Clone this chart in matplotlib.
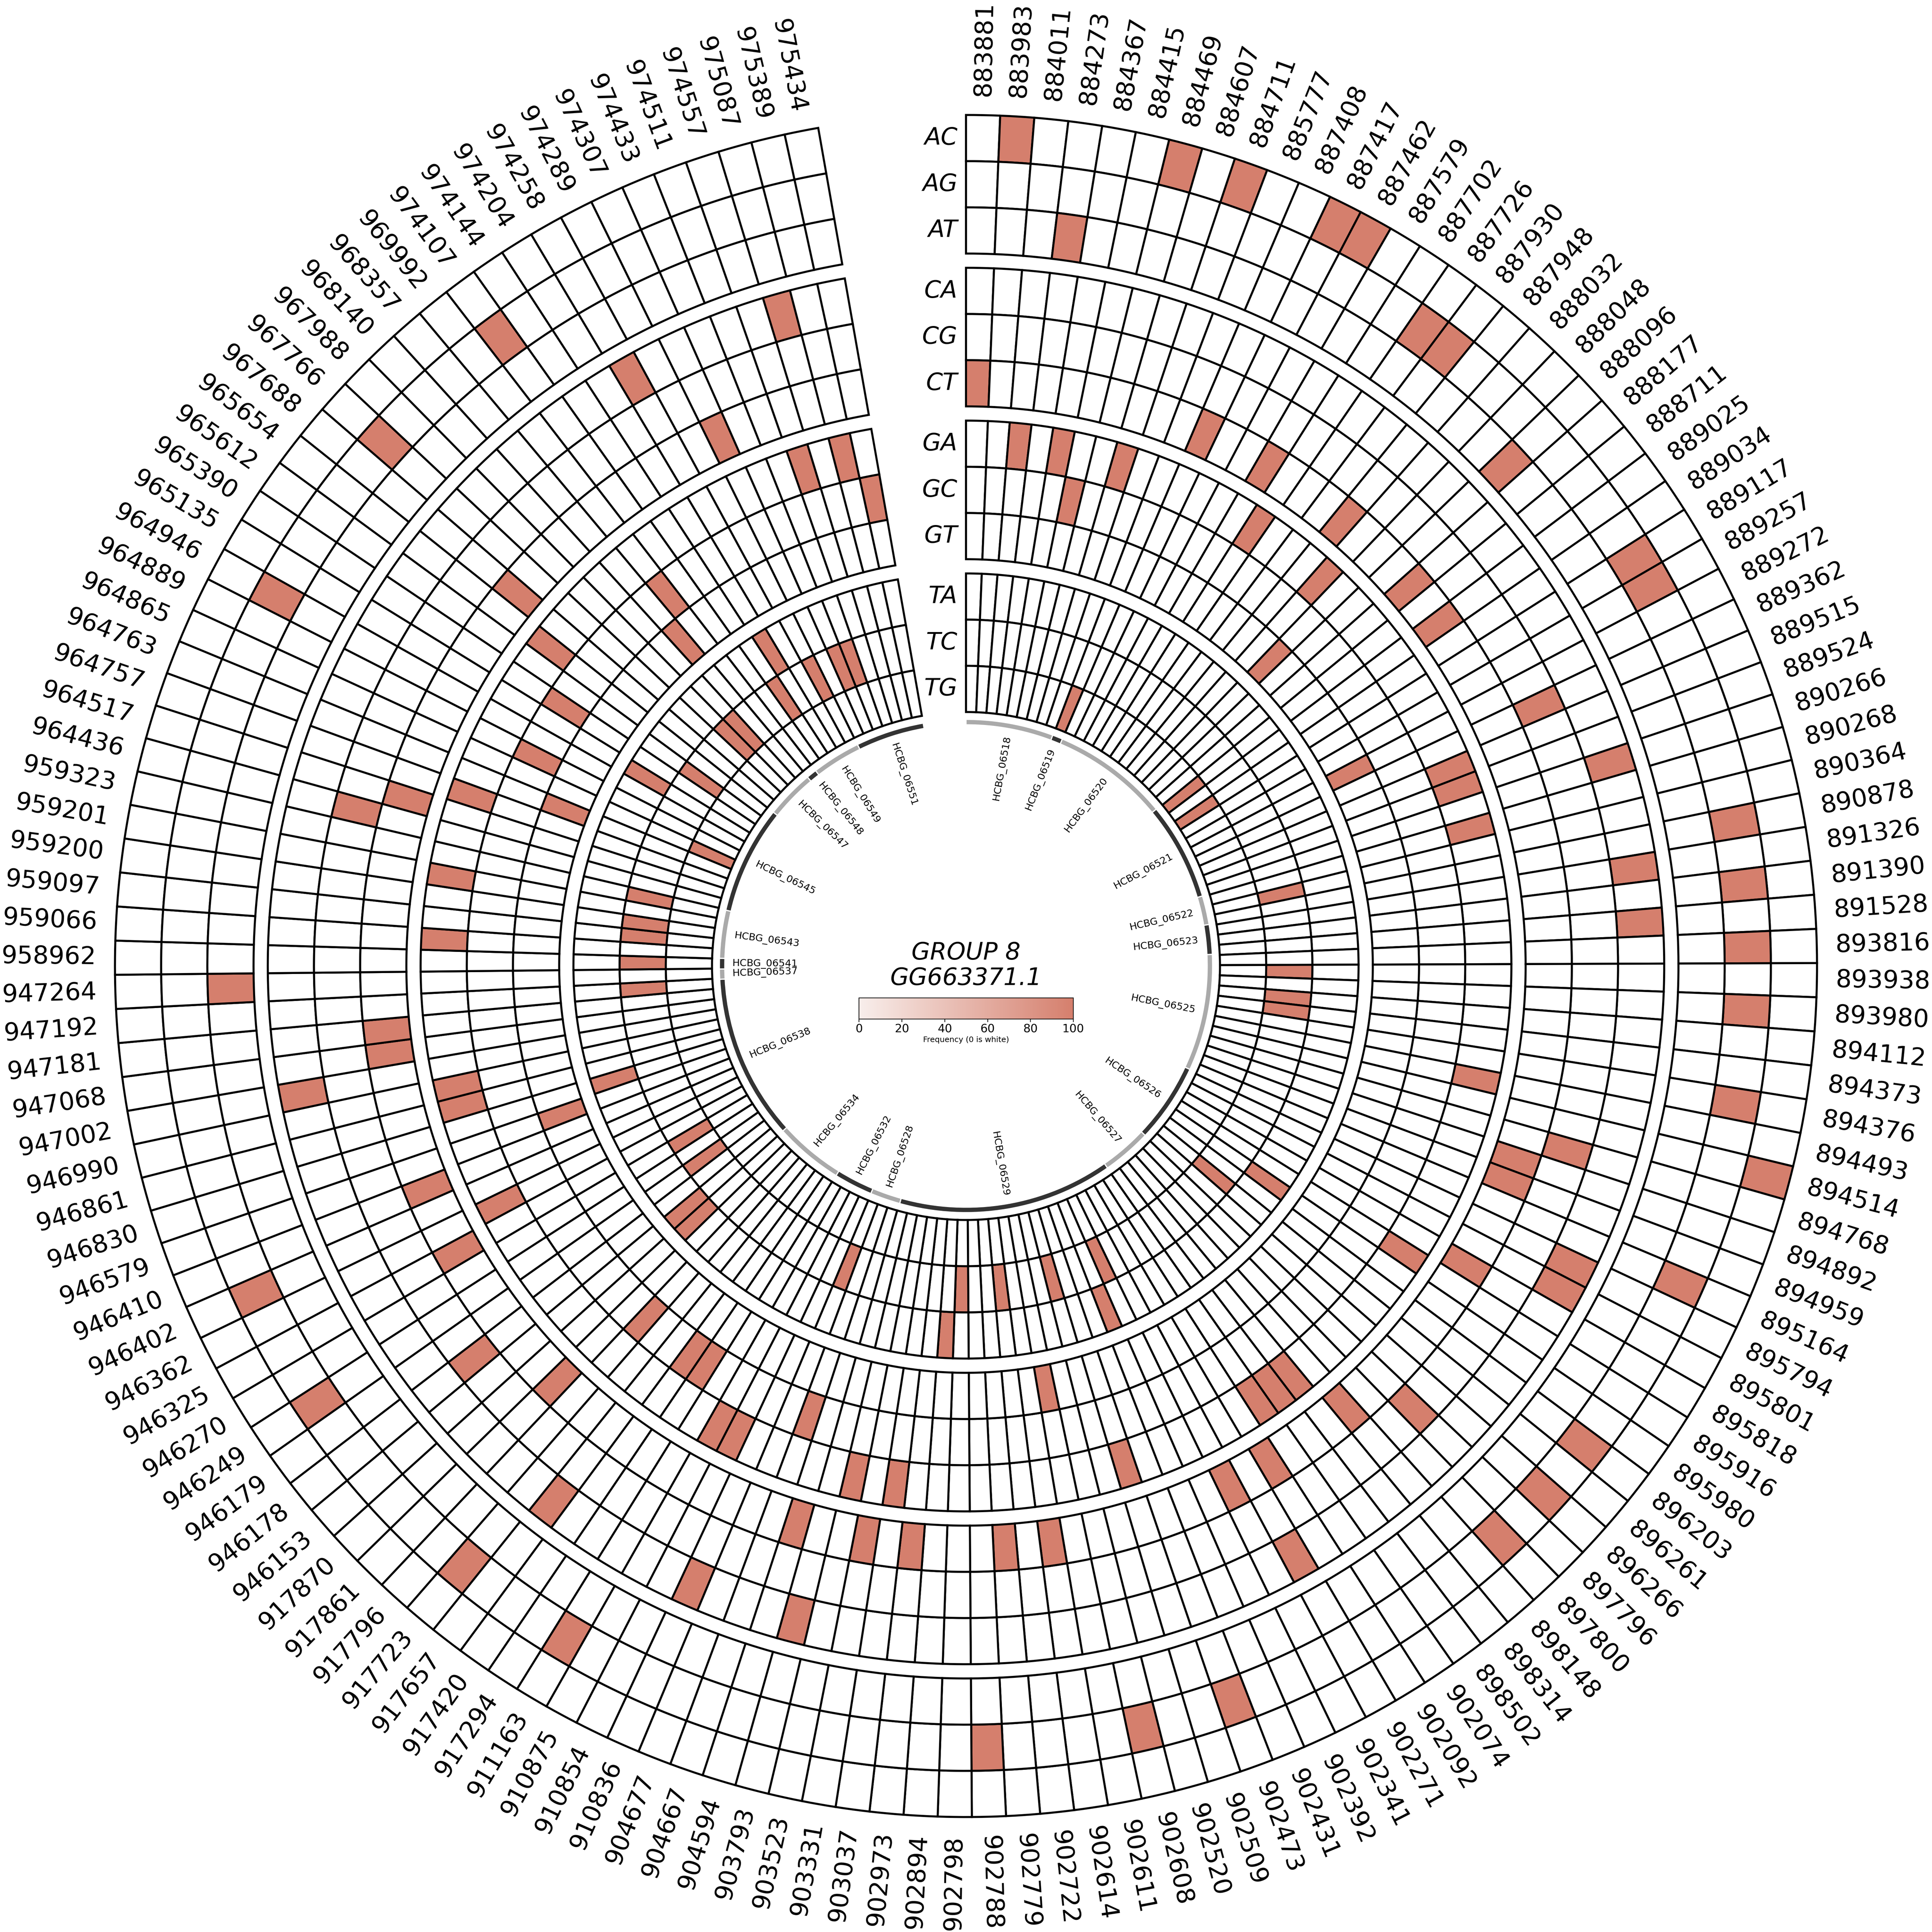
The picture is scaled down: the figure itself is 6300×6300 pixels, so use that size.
#!/usr/bin/env python3
"""Circular mutation heatmap for group 8 / GG663371.1."""

import numpy as np
import matplotlib
matplotlib.use('Agg')
import matplotlib.pyplot as plt
from matplotlib.cm import ScalarMappable
from matplotlib.colors import LinearSegmentedColormap, Normalize

positions = [
    883881, 883983, 884011, 884273, 884367, 884415, 884469, 884607, 884711, 885777,
    887408, 887417, 887462, 887579, 887702, 887726, 887930, 887948, 888032, 888048,
    888096, 888177, 888711, 889025, 889034, 889117, 889257, 889272, 889362, 889515,
    889524, 890266, 890268, 890364, 890878, 891326, 891390, 891528, 893816, 893938,
    893980, 894112, 894373, 894376, 894493, 894514, 894768, 894892, 894959, 895164,
    895794, 895801, 895818, 895916, 895980, 896203, 896261, 896266, 897796, 897800,
    898148, 898314, 898502, 902074, 902092, 902271, 902341, 902392, 902431, 902473,
    902509, 902520, 902608, 902611, 902614, 902722, 902779, 902788, 902798, 902894,
    902973, 903037, 903331, 903523, 903793, 904594, 904667, 904677, 910836, 910854,
    910875, 911163, 917294, 917420, 917657, 917723, 917796, 917861, 917870, 946153,
    946178, 946179, 946249, 946270, 946325, 946362, 946402, 946410, 946579, 946830,
    946861, 946990, 947002, 947068, 947181, 947192, 947264, 958962, 959066, 959097,
    959200, 959201, 959323, 964436, 964517, 964757, 964763, 964865, 964889, 964946,
    965135, 965390, 965612, 965654, 967688, 967766, 967988, 968140, 968357, 969992,
    974107, 974144, 974204, 974258, 974289, 974307, 974433, 974511, 974557, 975087,
    975389, 975434,
]

# column indices with frequency 100, everything else is 0
AC = [1, 6, 8, 11, 12, 45]
AG = [15, 16, 25, 26, 34, 36, 38, 40, 43, 49, 55, 57, 59, 69, 72, 77, 91, 95, 102, 106, 129, 135, 140]
AT = [3, 20, 116]
CA = [31, 35, 37, 50, 51, 65, 84, 88, 94, 112, 143, 149]
CG = [28, 46, 58, 100, 123]
CT = [0, 10, 13, 17, 21, 23, 47, 48, 52, 60, 64, 66, 74, 76, 80, 82, 85, 97, 104, 107, 113, 114, 124, 134, 145]
GA = [2, 4, 7, 14, 18, 29, 30, 32, 44, 53, 61, 62, 63, 70, 81, 83, 89, 90, 105, 110, 111, 118, 121, 125, 133, 148, 150]
GC = [5, 86, 92, 93, 96, 128, 131, 139, 151]
GT = [19, 27, 73, 108, 126, 138]
TA = [54, 68, 79, 98, 99, 109, 130, 142]
TC = [33, 39, 41, 42, 56, 67, 71, 75, 78, 87, 101, 103, 115, 117, 119, 120, 122, 132, 136, 137, 141, 144, 146, 147]
TG = [9, 22, 24, 127]

row_groups = [
    [('AC', AC), ('AG', AG), ('AT', AT)],
    [('CA', CA), ('CG', CG), ('CT', CT)],
    [('GA', GA), ('GC', GC), ('GT', GT)],
    [('TA', TA), ('TC', TC), ('TG', TG)],
]

gene_names = [
    'HCBG_06518', 'HCBG_06519', 'HCBG_06520', 'HCBG_06521', 'HCBG_06522', 'HCBG_06523',
    'HCBG_06525', 'HCBG_06526', 'HCBG_06527', 'HCBG_06529', 'HCBG_06528', 'HCBG_06532',
    'HCBG_06534', 'HCBG_06538', 'HCBG_06537', 'HCBG_06541', 'HCBG_06543', 'HCBG_06545',
    'HCBG_06547', 'HCBG_06548', 'HCBG_06549', 'HCBG_06551',
]
gene_edges = [
    0, 20.6, 23.0, 50.5, 73.5, 80.3, 87.3, 114.8, 133.4, 145.0, 195.6, 202.7,
    211.8, 228.0, 266.9, 269.3, 271.8, 283.1, 308.6, 320.0, 322.4, 333.9, 350.0,
]
gene_colors = ['#aaaaaa', '#333333'] * 11

# layout is in pixels of the 6713 px reference, the png itself stays under the 40 Mpx limit
SIZE = 6713
OUT_PX = 6300
FIG_IN = SIZE / 300
R_MAX = SIZE / 2
ARC = 350.0
ROW_H = 160.5
GROUP_TOPS = [2957, 2426, 1895, 1364]
LW = 1.7

cmap = LinearSegmentedColormap.from_list('freq', ['#f8eeeb', '#d57f6d'])
norm = Normalize(0, 100)

fig = plt.figure(figsize=(FIG_IN, FIG_IN), dpi=OUT_PX / FIG_IN)
ax = fig.add_axes([0, 0, 1, 1], projection='polar')
ax.set_theta_zero_location('N')
ax.set_theta_direction(-1)
ax.set_ylim(0, R_MAX)
ax.axis('off')

n_col = len(positions)
col_w = np.radians(ARC / n_col)
col_centers = (np.arange(n_col) + 0.5) * col_w

# heatmap rows
for top, rows in zip(GROUP_TOPS, row_groups):
    for i, (name, hits) in enumerate(rows):
        values = np.zeros(n_col)
        values[hits] = 100
        colors = [cmap(norm(v)) if v > 0 else 'white' for v in values]
        bottom = top - (i + 1) * ROW_H
        ax.bar(col_centers, ROW_H, width=col_w, bottom=bottom, color=colors,
               edgecolor='black', linewidth=LW, align='center')
        ax.annotate(name, (0, bottom + ROW_H / 2), xytext=(-7.2, 0), textcoords='offset points',
                    ha='right', va='center', style='italic', fontsize=20, annotation_clip=False)

# position labels around the outside
for theta, label in zip(col_centers, positions):
    deg = np.degrees(theta)
    if deg < 180:
        rot, ha = 90 - deg, 'left'
    else:
        rot, ha = 270 - deg, 'right'
    ax.text(theta, 3022, str(label), rotation=rot, rotation_mode='anchor', ha=ha, va='center',
            fontsize=20.7, clip_on=False)

# gene track
for k, name in enumerate(gene_names):
    t0, t1 = np.radians(gene_edges[k]), np.radians(gene_edges[k + 1])
    ax.bar((t0 + t1) / 2, 19, width=t1 - t0, bottom=838, color=gene_colors[k],
           edgecolor='white', linewidth=1.0)
    deg = (gene_edges[k] + gene_edges[k + 1]) / 2
    if deg < 180:
        rot, ha = 90 - deg, 'right'
    else:
        rot, ha = 270 - deg, 'left'
    ax.text(np.radians(deg), 812, name, rotation=rot, rotation_mode='anchor', ha=ha, va='center',
            fontsize=8.3)

fig.text(0.5, 1 - 3355 / SIZE, 'GROUP 8\nGG663371.1', ha='center', va='center',
         style='italic', fontsize=20, linespacing=1.12)

cax = fig.add_axes([2985 / SIZE, 1 - 3541 / SIZE, 744.5 / SIZE, 74 / SIZE])
cb = fig.colorbar(ScalarMappable(norm=norm, cmap=cmap), cax=cax, orientation='horizontal',
                  ticks=[0, 20, 40, 60, 80, 100])
cb.ax.tick_params(labelsize=9.6, width=0.6, length=2.5, pad=1.2)
cb.outline.set_linewidth(0.6)
cb.set_label('Frequency (0 is white)', fontsize=6.5, labelpad=1)

fig.savefig('out.png')
